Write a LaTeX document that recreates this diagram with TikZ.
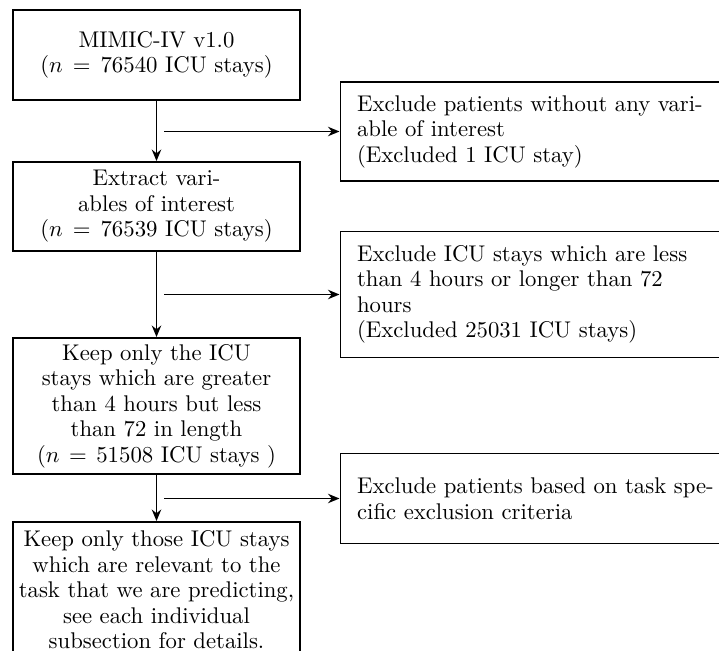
\documentclass[tikz,border=0pt]{standalone}
\usetikzlibrary{arrows.meta}
\begin{document}
\begin{tikzpicture}[x=0.48pt,y=-0.48pt,
  font=\fontsize{10.9pt}{12.25pt}\selectfont,
  box/.style={draw,line width=0.9pt,inner sep=0pt},
  leftbox/.style={box,minimum width=137.8pt,text width=136.5pt,align=center},
  rightbox/.style={box,anchor=west,minimum width=200pt,text width=184pt,align=left,inner xsep=8pt},
  arr/.style={line width=0.9pt,-{Stealth[length=5.5pt,width=4.5pt]}}]
\useasboundingbox (0,0) rectangle (719,651);
\clip (0,0) rectangle (719,651);
\node[leftbox,minimum height=43.2pt] (b1) at (156.5,55) {MIMIC-IV v1.0\\($n = 76540$ ICU stays)};
\node[leftbox,minimum height=42.7pt] (b2) at (156.5,206.5) {Extract vari-\\ables of interest\\($n = 76539$ ICU stays)};
\node[leftbox,minimum height=65.3pt] (b3) at (156.5,406) {Keep only the ICU\\stays which are greater\\than 4 hours but less\\than 72 in length\\($n = 51508$ ICU stays )};
\node[leftbox,minimum height=65.3pt] (b4) at (156.5,590) {Keep only those ICU stays\\which are relevant to the\\task that we are predicting,\\see each individual\\subsection for details.};
\node[rightbox,minimum height=47.5pt] (r1) at (339.5,131.5) {Exclude patients without any vari-\\able of interest\\(Excluded 1 ICU stay)};
\node[rightbox,minimum height=60.5pt] (r2) at (339.5,294.5) {Exclude ICU stays which are less\\than 4 hours or longer than 72\\hours\\(Excluded 25031 ICU stays)};
\node[rightbox,minimum height=43.2pt] (r3) at (339.5,498.5) {Exclude patients based on task spe-\\cific exclusion criteria};
\draw[arr] (b1.south) -- (b2.north);
\draw[arr] (b2.south) -- (b3.north);
\draw[arr] (b3.south) -- (b4.north);
\coordinate (s1) at (164,131.5);
\coordinate (s2) at (164,294.5);
\coordinate (s3) at (164,498.5);
\draw[arr] (s1) -- (r1.west);
\draw[arr] (s2) -- (r2.west);
\draw[arr] (s3) -- (r3.west);
\end{tikzpicture}
\end{document}
